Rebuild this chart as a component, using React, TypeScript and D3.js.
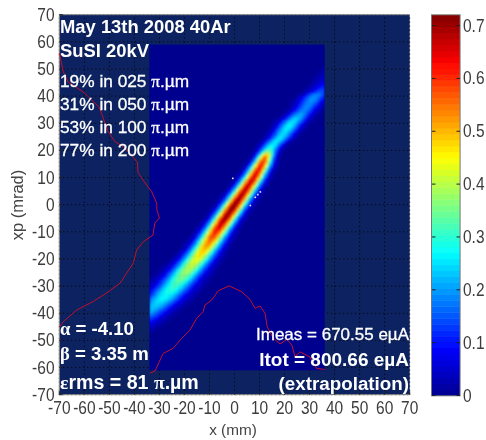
import React from "react";
import * as d3 from "d3";

const axisTicks = [-70, -60, -50, -40, -30, -20, -10, 0, 10, 20, 30, 40, 50, 60, 70];
const barTicks = [0, 0.1, 0.2, 0.3, 0.4, 0.5, 0.6, 0.7];
const jetPositions = [0, 0.125, 0.375, 0.625, 0.875, 1];
const jetColours = ["#00008f", "#0000ff", "#00ffff", "#ffff00", "#ff0000", "#800000"];

// beam ridge, one row per xp level: centre x (mm), peak intensity, sigma (mm)
const ridgeXp = [-60, -55, -50, -45, -40, -35, -30, -25, -20, -15, -10, -5, 0, 5, 10, 15, 18, 20, 22, 25, 30, 35, 40, 42, 45, 50, 55, 59];
const ridgeCentre = [-58, -53, -47, -41, -35, -29, -24, -19.5, -15, -11, -7.5, -3.8, 0, 3.8, 7.6, 10.8, 12.4, 13.5, 15, 18.5, 22.5, 28, 32, 35, 37, 39, 42, 45];
const ridgePeak = [0, 0, 0.04, 0.13, 0.2, 0.26, 0.31, 0.38, 0.44, 0.52, 0.62, 0.7, 0.72, 0.68, 0.66, 0.62, 0.55, 0.33, 0.27, 0.25, 0.27, 0.18, 0.2, 0.14, 0.08, 0.03, 0, 0];
const ridgeSigma = [5, 5, 5, 5, 5, 5, 4.8, 4.4, 4, 3.6, 3.3, 3.1, 3, 2.9, 2.7, 2.5, 2.2, 2.4, 2.6, 2.9, 3.1, 3.1, 3.3, 3.3, 3.3, 3.3, 3.3, 3.3];

const speckX = [6, 8, 9, 10, -1];
const speckXp = [0, 3, 4, 5, 10];

const profileXpX = [-70, -68.4, -66.5, -63.7, -60.5, -57.1, -54.1, -52.5, -50.5, -47.7, -44.5, -40.6, -38.7, -38.6, -36.6, -33.1, -31.1, -31, -30, -31.8, -32.6, -36.4, -39.1, -40.4, -43.1, -45.7, -51.1, -56.5, -63, -68.4, -70];
const profileXpY = [55.9, 49, 45.2, 43.5, 41.6, 38.6, 36, 32, 26.9, 23.2, 21.4, 17.7, 15.4, 12, 9.1, 4.8, 0.6, -2, -4.9, -6.7, -11.2, -13.6, -16.7, -21.5, -25.2, -28.9, -32.5, -35.7, -38.8, -43.1, -45.1];
const profileXX = [-33.8, -31.8, -28.5, -24.5, -21.1, -17.8, -15.1, -12.5, -11.8, -9.1, -6.5, -2.1, 2.9, 6.2, 8.2, 10.2, 12.2, 13.1, 15.5, 18.2, 20.9, 22.9, 24.2, 26.2, 30.2, 32.8, 36.1];
const profileXY = [-62.1, -61.3, -54.8, -52.9, -49.2, -46.2, -41.9, -39.4, -37, -35.1, -31.7, -29.9, -32.1, -34.9, -38.2, -37.3, -40, -45, -49.2, -51.3, -49.6, -51.7, -56, -54.2, -56.2, -60.3, -60.7];

const fractions = ["19% in 025", "31% in 050", "53% in 100", "77% in 200"];

const sansFont = "'Liberation Sans', Arial, sans-serif";
const piFont = "'Liberation Serif', serif";

const x = d3.scaleLinear().domain([-70, 70]).range([59.3, 409.7]);
const y = d3.scaleLinear().domain([-70, 70]).range([394.7, 14.7]);
const barY = d3.scaleLinear().domain([0, 0.72]).range([395.5, 15]);
const jet = d3.scaleLinear<string>().domain(jetPositions).range(jetColours).interpolate(d3.interpolateRgb).clamp(true);
const levels = 64;
const levelColour = (v: number) => {
  const q = Math.min(levels - 1, Math.floor((v / 0.72) * levels));
  return jet((q + 0.5) / levels);
};

const centreAt = d3.scaleLinear().domain(ridgeXp).range(ridgeCentre);
const peakAt = d3.scaleLinear().domain(ridgeXp).range(ridgePeak);
const sigmaAt = d3.scaleLinear().domain(ridgeXp).range(ridgeSigma);

const cellXs = d3.range(-34, 36, 1);
const cellYs = d3.range(-61, 59, 1);

const profilePath = (xs: number[], ys: number[]) =>
  d3.line<number>().x((d) => x(d)).y((_, i) => y(ys[i]))(xs) ?? "";

function Greek({ text }: { text: string }) {
  return <tspan fontFamily={piFont}>{text}</tspan>;
}

function TickText({ px, py, anchor, label }: { px: number; py: number; anchor: string; label: string }) {
  return (
    <text transform={`translate(${px},${py}) scale(1,1.13)`} textAnchor={anchor} fontSize={15.5} fill="#3c3c3c">
      {label}
    </text>
  );
}

export default function App() {
  const cells: React.ReactElement[] = [];
  cellXs.forEach((cx) => {
    cellYs.forEach((cy) => {
      const xc = cx + 0.5;
      const yc = cy + 0.5;
      const d = xc - centreAt(yc);
      const s = sigmaAt(yc);
      const v = peakAt(yc) * Math.exp((-d * d) / (2 * s * s));
      if (v * 64 / 0.72 < 1) return;
      cells.push(
        <rect key={`${cx}_${cy}`} x={x(cx)} y={y(cy + 1)} width={x(cx + 1) - x(cx) + 0.4} height={y(cy) - y(cy + 1) + 0.4} fill={levelColour(v)} />
      );
    });
  });

  return (
    <svg width={486} height={440} style={{ position: "absolute", left: 0, top: 0 }} fontFamily={sansFont}>
      <defs>
        <filter id="soft" x="-5%" y="-5%" width="110%" height="110%">
          <feGaussianBlur stdDeviation="0.35" />
        </filter>
        <filter id="softHeat" x="0" y="0" width="100%" height="100%">
          <feGaussianBlur stdDeviation="0.9" />
        </filter>
        <clipPath id="heatClip">
          <rect x={x(-34)} y={y(59)} width={x(36) - x(-34)} height={y(-61) - y(59)} />
        </clipPath>
      </defs>
      <rect width={486} height={440} fill="#fff" />
      <g filter="url(#soft)">
        <rect x={x(-70)} y={y(70)} width={x(70) - x(-70)} height={y(-70) - y(70)} fill="#0b2361" />
        {axisTicks.map((t) => (
          <g key={t}>
            <line x1={x(t)} x2={x(t)} y1={y(-70)} y2={y(70)} stroke="#000" strokeDasharray="1 3" />
            <line x1={x(-70)} x2={x(70)} y1={y(t)} y2={y(t)} stroke="#000" strokeDasharray="1 3" />
          </g>
        ))}
        <rect x={x(-34)} y={y(59)} width={x(36) - x(-34)} height={y(-61) - y(59)} fill="#00008f" />
        <g clipPath="url(#heatClip)">
          <g filter="url(#softHeat)">{cells}</g>
        </g>
        {speckX.map((s, i) => (
          <rect key={i} x={x(s)} y={y(speckXp[i])} width={1.6} height={1.6} fill="#fff" opacity={0.9} />
        ))}
        <path d={`M${x(-70)},${y(-70)}H${x(70)}M${x(-70)},${y(-70)}V${y(70)}H${x(70)}`} fill="none" stroke="#8c8c8c" />
        {axisTicks.map((t) => (
          <g key={t}>
            <line x1={x(t)} x2={x(t)} y1={y(-70)} y2={y(-70) - 3.5} stroke="#222" />
            <line x1={x(-70)} x2={x(-70) + 3.5} y1={y(t)} y2={y(t)} stroke="#222" />
            <TickText px={x(t)} py={414} anchor="middle" label={String(t)} />
            <TickText px={54.5} py={y(t) + 6} anchor="end" label={String(t)} />
          </g>
        ))}
        <text x={233} y={435} textAnchor="middle" fontSize={15.3} fill="#444">x (mm)</text>
        <text transform="translate(23,205) rotate(-90)" textAnchor="middle" fontSize={16.5} fill="#444">xp (mrad)</text>

        <path d={profilePath(profileXpX, profileXpY)} fill="none" stroke="#c4102c" strokeWidth={1} />
        <path d={profilePath(profileXX, profileXY)} fill="none" stroke="#c4102c" strokeWidth={1} />

        <g fill="#fff">
          <text x={60} y={33} fontSize={18.4} fontWeight="bold">May 13th 2008 40Ar</text>
          <text x={60} y={57} fontSize={18.4} fontWeight="bold">SuSI 20kV</text>
          {fractions.map((f, i) => (
            <text key={f} x={60} y={87 + i * 23.1} fontSize={17.3} stroke="#fff" strokeWidth={0.3}>
              {f} <Greek text="π" />.µm
            </text>
          ))}
          <text x={60} y={335} fontSize={18.6} fontWeight="bold"><Greek text="α" /> = -4.10</text>
          <text x={60} y={360} fontSize={18.6} fontWeight="bold"><Greek text="β" /> = 3.35 m</text>
          <text x={60} y={389} fontSize={19.6} fontWeight="bold"><Greek text="ε" />rms = 81 <Greek text="π" />.µm</text>
          <text x={409} y={340} textAnchor="end" fontSize={17} stroke="#fff" strokeWidth={0.3}>Imeas = 670.55 eµA</text>
          <text x={409} y={366} textAnchor="end" fontSize={19} fontWeight="bold">Itot = 800.66 eµA</text>
          <text x={409} y={390} textAnchor="end" fontSize={18.8} fontWeight="bold">(extrapolation)</text>
        </g>

        {d3.range(levels).map((i) => {
          const lo = (i / levels) * 0.72;
          const hi = ((i + 1) / levels) * 0.72;
          return <rect key={i} x={432} y={barY(hi)} width={28} height={barY(lo) - barY(hi) + 0.5} fill={jet((i + 0.5) / levels)} />;
        })}
        <rect x={431.5} y={14.8} width={28.6} height={381} fill="none" stroke="#777" />
        {barTicks.map((t) => (
          <g key={t}>
            <line x1={432} x2={435.5} y1={barY(t)} y2={barY(t)} stroke="#222" />
            <line x1={456.5} x2={460} y1={barY(t)} y2={barY(t)} stroke="#222" />
            <TickText px={463} py={barY(t) + 6} anchor="start" label={t === 0 ? "0" : t.toFixed(1)} />
          </g>
        ))}
      </g>
    </svg>
  );
}
